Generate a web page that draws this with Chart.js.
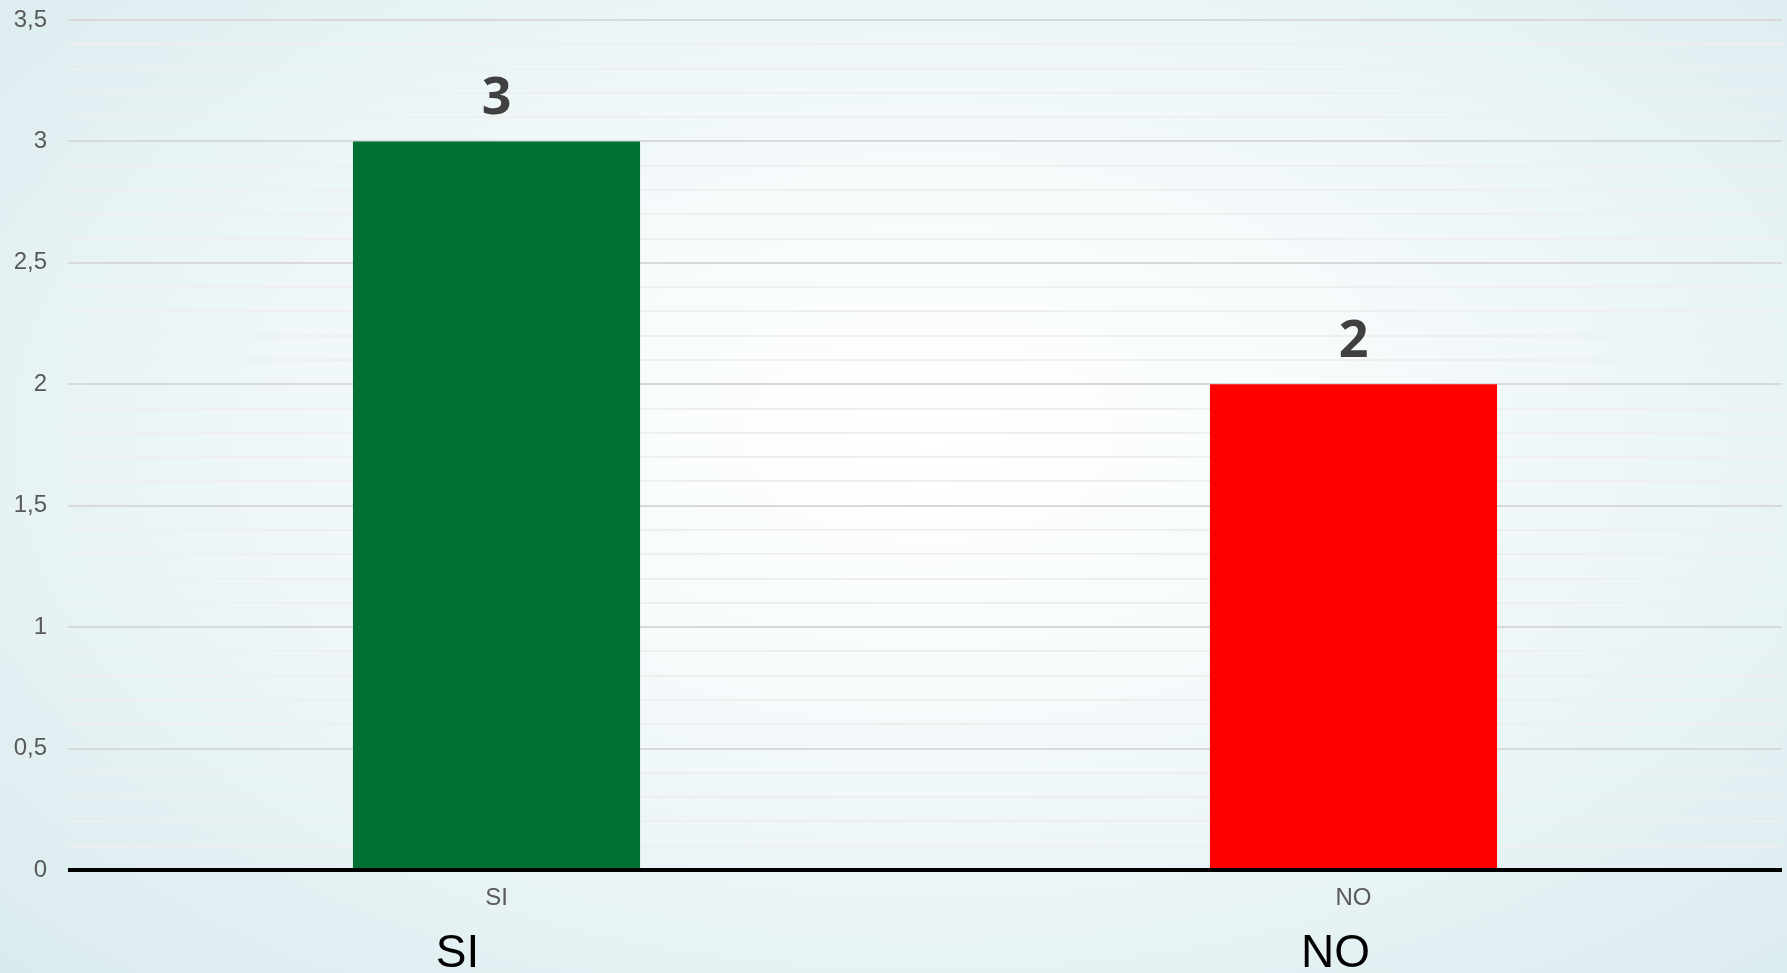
<!DOCTYPE html>
<html>
<head>
<meta charset="utf-8">
<script src="https://cdn.jsdelivr.net/npm/chart.js@4/dist/chart.umd.min.js"></script>
<style>
  html, body { margin: 0; padding: 0; }
  body {
    width: 1787px; height: 973px; overflow: hidden;
    background: radial-gradient(ellipse 75% 80% at 52% 45%, #ffffff 0%, #f7fbfc 30%, #e8f3f5 65%, #d8eaee 100%);
  }
  #wrap { position: relative; width: 1787px; height: 973px; }
</style>
</head>
<body>
<div id="wrap"><canvas id="c"></canvas></div>
<script>
// ---- data ----
const categories = ['SI', 'NO'];
const values = [3, 2];
const barColors = ['#007033', '#ff0000'];
const legendLabels = ['SI', 'NO'];
const yMin = 0, yMax = 3.5, yStep = 0.1;

const fmt = v => String(v).replace('.', ',');

const valueLabels = {
  id: 'valueLabels',
  afterDatasetsDraw(chart) {
    const ctx = chart.ctx;
    const meta = chart.getDatasetMeta(0);
    ctx.save();
    ctx.font = 'bold 52px "Open Sans", "DejaVu Sans", sans-serif';
    ctx.fillStyle = '#404040';
    ctx.textAlign = 'center';
    ctx.textBaseline = 'alphabetic';
    meta.data.forEach((bar, i) => {
      ctx.fillText(String(values[i]), bar.x, bar.y - 27);
    });
    ctx.restore();
  }
};

const bottomLegend = {
  id: 'bottomLegend',
  afterDraw(chart) {
    const ctx = chart.ctx;
    const cx = chart.width / 2;
    const offsets = [-436, 442];
    ctx.save();
    ctx.font = '46px "Liberation Sans", Arial, sans-serif';
    ctx.fillStyle = '#000000';
    ctx.textAlign = 'center';
    ctx.textBaseline = 'alphabetic';
    legendLabels.forEach((t, i) => ctx.fillText(t, cx + offsets[i], chart.height - 6));
    ctx.restore();
  }
};

new Chart(document.getElementById('c'), {
  type: 'bar',
  data: {
    labels: categories,
    datasets: [{
      data: values,
      backgroundColor: barColors,
      borderWidth: 0,
      barPercentage: 0.67,
      categoryPercentage: 0.5
    }]
  },
  options: {
    responsive: true,
    maintainAspectRatio: false,
    animation: false,
    layout: { padding: { top: 20, right: 5, left: 0, bottom: 0 } },
    plugins: { legend: { display: false }, tooltip: { enabled: false } },
    scales: {
      x: {
        grid: { display: false, drawTicks: false },
        border: { display: false },
        ticks: {
          color: '#595959',
          font: { family: '"Liberation Sans", Arial, sans-serif', size: 24 },
          padding: 14
        },
        afterFit(s) { s.height = 103; }
      },
      y: {
        min: yMin, max: yMax,
        border: { display: false },
        grid: {
          drawTicks: false,
          lineWidth: ctx => {
            const k = Math.round(ctx.tick.value * 10);
            return k === 0 ? 4 : 2;
          },
          color: ctx => {
            const k = Math.round(ctx.tick.value * 10);
            if (k === 0) return '#000000';
            return k % 5 === 0 ? '#d9d9d9' : '#efefef';
          }
        },
        ticks: {
          stepSize: yStep,
          autoSkip: false,
          padding: 21,
          color: '#595959',
          font: { family: '"Liberation Sans", Arial, sans-serif', size: 24 },
          callback: v => {
            const k = Math.round(v * 10);
            return k % 5 === 0 ? fmt(k / 10) : '';
          }
        },
        afterFit(s) { s.width = 68; s.paddingTop = 0; s.paddingBottom = 0; }
      }
    }
  },
  plugins: [valueLabels, bottomLegend]
});
</script>
</body>
</html>
